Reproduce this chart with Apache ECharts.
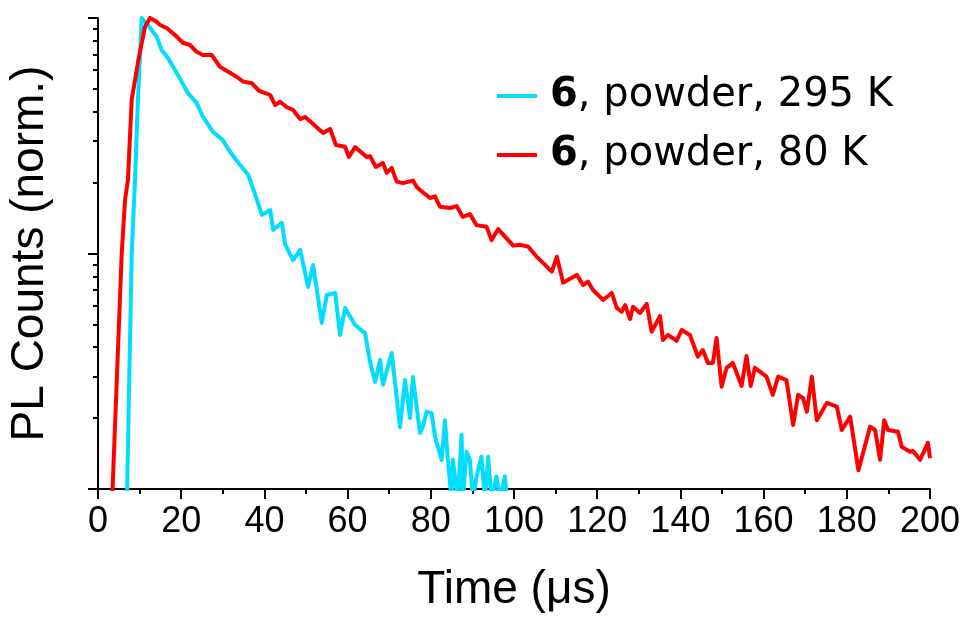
<!DOCTYPE html>
<html>
<head>
<meta charset="utf-8">
<script src="https://cdn.jsdelivr.net/npm/echarts@6/dist/echarts.min.js"></script>
<style>
  html, body { margin: 0; padding: 0; background: #fff; }
  #chart { width: 967px; height: 618px; }
</style>
</head>
<body>
<div id="chart"></div>
<script>
// ---- data ----
const seriesNames = ['6, powder, 295 K', '6, powder, 80 K'];

const cyanX = [6.9, 8.1, 8.9, 9.6, 10.5, 12.0, 14.1, 15.3, 16.8, 18.5, 20.1, 21.6, 23.7, 25.2, 27.6, 30.0, 31.7, 34.1, 36.1, 37.5,
  39.4, 41.4, 42.1, 44.2, 45.0, 46.9, 48.6, 50.5, 51.7, 53.8, 55.0, 57.0, 58.2, 59.4, 61.8, 64.2, 65.4, 66.6, 67.8, 68.5,
  70.6, 72.6, 73.8, 75.0, 75.7, 77.4, 78.1, 79.0, 80.2, 81.0, 81.7, 82.6, 83.4, 84.1, 85.0, 85.3, 86.5, 87.4, 87.7, 88.6,
  89.4, 90.1, 91.0, 92.2, 93.0, 93.8, 94.6, 95.8, 96.6, 97.8, 98.3];
const cyanY = [0.008, 0.1, 0.205, 0.449, 1.0, 0.934, 0.833, 0.731, 0.676, 0.601, 0.537, 0.48, 0.436, 0.381, 0.329, 0.303, 0.271, 0.238, 0.216, 0.184,
  0.146, 0.153, 0.126, 0.135, 0.109, 0.0938, 0.1035, 0.0721, 0.0894, 0.0507, 0.0667, 0.068, 0.0451, 0.0587, 0.0497, 0.0459, 0.0346, 0.0285, 0.0353, 0.0277,
  0.0378, 0.0183, 0.029, 0.02, 0.0299, 0.0173, 0.0184, 0.0213, 0.021, 0.0167, 0.0151, 0.0133, 0.0196, 0.0133, 0.009, 0.0133, 0.009, 0.017, 0.009, 0.0144,
  0.0133, 0.009, 0.0113, 0.0137, 0.009, 0.0137, 0.009, 0.0113, 0.009, 0.0113, 0.009];

const redX = [3.4, 5.7, 6.5, 7.2, 8.1, 9.7, 11.3, 12.5, 14.1, 14.9, 16.5, 18.5, 20.4, 22.1, 23.7, 25.2, 27.3, 29.3, 31.7, 33.3,
  34.9, 37.0, 38.7, 39.4, 41.4, 42.6, 43.8, 45.4, 46.9, 48.6, 49.8, 51.7, 54.1, 55.8, 57.2, 59.4, 60.3, 61.8, 64.6, 65.4,
  66.8, 68.5, 69.4, 70.6, 71.8, 73.3, 75.7, 76.6, 77.4, 79.8, 81.0, 82.2, 84.6, 86.2, 87.7, 89.4, 91.0, 93.4, 94.6, 96.2,
  99.8, 101.4, 103.4, 105.5, 109.1, 110.3, 111.8, 115.1, 116.6, 117.8, 119.0, 121.4, 123.5, 124.7, 125.9, 126.7, 127.9, 128.6, 130.3, 131.9,
  133.1, 135.1, 135.8, 137.0, 139.1, 140.3, 142.3, 144.2, 145.4, 146.6, 147.8, 148.7, 149.9, 151.1, 152.6, 154.7, 155.9, 156.9, 157.9, 160.7,
  162.2, 163.5, 165.5, 167.1, 168.3, 169.5, 170.4, 171.6, 172.8, 175.2, 177.6, 178.8, 180.8, 182.8, 185.6, 186.8, 188.0, 189.0, 189.9, 192.3,
  193.2, 195.2, 195.9, 197.6, 199.5, 200];
const redY = [0.009, 0.1, 0.169, 0.205, 0.449, 0.663, 0.918, 1.0, 0.964, 0.934, 0.907, 0.847, 0.785, 0.768, 0.719, 0.697, 0.697, 0.621, 0.586, 0.563,
  0.537, 0.528, 0.491, 0.486, 0.471, 0.427, 0.441, 0.418, 0.407, 0.372, 0.38, 0.355, 0.325, 0.338, 0.289, 0.284, 0.257, 0.283, 0.257, 0.259,
  0.233, 0.242, 0.22, 0.231, 0.202, 0.199, 0.204, 0.192, 0.186, 0.172, 0.175, 0.158, 0.156, 0.159, 0.143, 0.147, 0.132, 0.13, 0.114, 0.127,
  0.108, 0.109, 0.107, 0.0967, 0.0837, 0.0969, 0.0752, 0.0811, 0.0735, 0.0759, 0.07, 0.0635, 0.068, 0.0587, 0.0566, 0.0604, 0.0527, 0.0594, 0.0559, 0.0611,
  0.0466, 0.0543, 0.0429, 0.0451, 0.0426, 0.0473, 0.0451, 0.0365, 0.0389, 0.0343, 0.0343, 0.0438, 0.0272, 0.0327, 0.0343, 0.0274, 0.0367, 0.0274, 0.0327, 0.03,
  0.0251, 0.03, 0.029, 0.0187, 0.0251, 0.0243, 0.0213, 0.03, 0.0196, 0.0232, 0.0224, 0.0178, 0.0203, 0.012, 0.0184, 0.0178, 0.0133, 0.0196, 0.0178, 0.0175,
  0.0151, 0.0144, 0.0145, 0.0133, 0.0157, 0.0135];

const xMin = 0, xMax = 200, xInterval = 20;
const yMin = 0.01, yMax = 1;

// ---- chart ----
const FONT = '"Liberation Sans", Arial, sans-serif';
const LEGEND_FONT = '"DejaVu Sans", "Liberation Sans", Arial, sans-serif';
const zip = (xs, ys) => xs.map((x, i) => [x, ys[i]]);

const chart = echarts.init(document.getElementById('chart'), null, { renderer: 'canvas' });

chart.setOption({
  animation: false,
  backgroundColor: '#ffffff',
  grid: { left: 98, right: 37, top: 18, bottom: 129, containLabel: false, outerBoundsMode: 'none' },
  legend: {
    orient: 'vertical',
    left: 497,
    top: 76,
    padding: 0,
    itemWidth: 40,
    itemHeight: 4,
    itemGap: 19,
    icon: 'rect',
    selectedMode: false,
    data: seriesNames,
    formatter: function (name) { return '{b|6}' + name.slice(1); },
    textStyle: {
      fontFamily: LEGEND_FONT, fontSize: 40, color: '#000', lineHeight: 40,
      padding: [0, 0, 0, 8],
      rich: { b: { fontFamily: LEGEND_FONT, fontSize: 40, fontWeight: 'bold', color: '#000', lineHeight: 40 } }
    }
  },
  xAxis: {
    type: 'value',
    min: xMin, max: xMax, interval: xInterval,
    name: 'Time (\u03bcs)',
    nameLocation: 'middle',
    nameGap: 78,
    nameTextStyle: { fontFamily: FONT, fontSize: 46, color: '#000' },
    axisLine: { show: true, onZero: false, lineStyle: { color: '#000', width: 2 } },
    axisTick: { show: true, inside: false, length: 10, lineStyle: { color: '#000', width: 2 } },
    minorTick: { show: true, splitNumber: 2, length: 5, lineStyle: { color: '#000', width: 2 } },
    axisLabel: { fontFamily: FONT, fontSize: 36, color: '#000', margin: 15 },
    splitLine: { show: false },
    minorSplitLine: { show: false }
  },
  yAxis: {
    type: 'log',
    logBase: 10,
    min: yMin, max: yMax,
    name: 'PL Counts (norm.)',
    nameLocation: 'middle',
    nameGap: 45,
    nameRotate: 90,
    nameTextStyle: { fontFamily: FONT, fontSize: 46, color: '#000' },
    axisLine: { show: true, lineStyle: { color: '#000', width: 2 } },
    axisTick: { show: true, inside: false, length: 10, lineStyle: { color: '#000', width: 2 } },
    minorTick: { show: true, splitNumber: 9, length: 5, lineStyle: { color: '#000', width: 2 } },
    axisLabel: { show: false },
    splitLine: { show: false },
    minorSplitLine: { show: false }
  },
  series: [
    {
      name: seriesNames[0],
      type: 'line',
      data: zip(cyanX, cyanY),
      showSymbol: false, symbol: 'none',
      clip: true,
      lineStyle: { color: '#00DDFF', width: 4, join: 'round' },
      itemStyle: { color: '#00DDFF' }
    },
    {
      name: seriesNames[1],
      type: 'line',
      data: zip(redX, redY),
      showSymbol: false, symbol: 'none',
      clip: true,
      lineStyle: { color: '#FF0000', width: 4, join: 'round' },
      itemStyle: { color: '#FF0000' }
    }
  ]
});
</script>
</body>
</html>
